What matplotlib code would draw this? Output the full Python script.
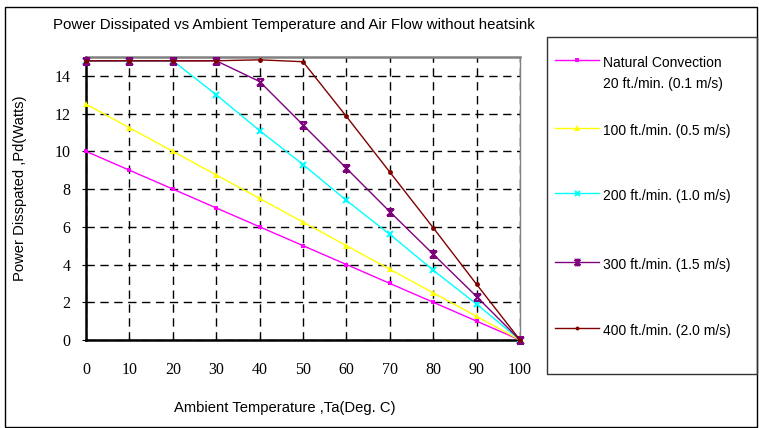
import matplotlib
matplotlib.use("Agg")
import matplotlib.pyplot as plt
from matplotlib.lines import Line2D
from matplotlib.patches import Rectangle
from matplotlib.path import Path

# data
temps = [0, 10, 20, 30, 40, 50, 60, 70, 80, 90, 100]
natural = [10, 9, 8, 7, 6, 5, 4, 3, 2, 1, 0]
ft100 = [12.5, 11.25, 10, 8.75, 7.5, 6.25, 5, 3.75, 2.5, 1.25, 0]
ft200 = [14.8, 14.8, 14.8, 13.0, 11.1, 9.3, 7.4, 5.6, 3.7, 1.9, 0]
ft300 = [14.8, 14.8, 14.8, 14.8, 13.7, 11.4, 9.1, 6.8, 4.55, 2.3, 0]
ft400 = [14.8, 14.8, 14.8, 14.8, 14.85, 14.75, 11.85, 8.9, 5.95, 2.95, 0]

labels = ["Natural Convection\n20 ft./min. (0.1 m/s)", "100 ft./min. (0.5 m/s)",
          "200 ft./min. (1.0 m/s)", "300 ft./min. (1.5 m/s)", "400 ft./min. (2.0 m/s)"]
xticks = [0, 10, 20, 30, 40, 50, 60, 70, 80, 90, 100]
yticks = [0, 2, 4, 6, 8, 10, 12, 14]

# hourglass-like marker (x with bars)
hg = Path([(-1, -1), (1, 1), (-1, 1), (1, -1), (-1, 1), (1, 1), (-1, -1), (1, -1)],
          [Path.MOVETO, Path.LINETO, Path.MOVETO, Path.LINETO,
           Path.MOVETO, Path.LINETO, Path.MOVETO, Path.LINETO])

styles = [
    dict(color="#FF00FF", marker="s", ms=3.5, mew=0),
    dict(color="#FFFF00", marker="^", ms=5, mew=0),
    dict(color="#00FFFF", marker="x", ms=4.5, mew=1.5),
    dict(color="#800080", marker=hg, ms=5, mew=1.5),
    dict(color="#800000", marker="o", ms=3.5, mew=0),
]
series = [natural, ft100, ft200, ft300, ft400]

W, H = 759, 428
fig = plt.figure(figsize=(W / 100, H / 100), dpi=100)
ax = fig.add_axes([86 / W, 1 - 340 / H, (520 - 86) / W, (340 - 57) / H])

for vals, st in zip(series, styles):
    ax.plot(temps, vals, lw=1, color=st["color"], marker=st["marker"],
            markersize=st["ms"], markeredgewidth=st["mew"],
            markeredgecolor=st["color"], markerfacecolor=st["color"],
            clip_on=False, zorder=3)

ax.set_xlim(0, 100)
ax.set_ylim(0, 15)
ax.set_xticks(xticks)
ax.set_yticks(yticks)
ax.grid(True, color="black", linestyle=(0, (6, 4)), lw=1)
ax.tick_params(axis="y", direction="out", length=3, pad=8, labelsize=11.5)
ax.tick_params(axis="x", direction="in", length=3, pad=16, labelsize=11.5)
for lab in ax.get_xticklabels() + ax.get_yticklabels():
    lab.set_fontfamily("Liberation Serif")

ax.spines["left"].set_linewidth(1.8)
ax.spines["bottom"].set_linewidth(1.8)
ax.spines["top"].set_color("#808080")
ax.spines["top"].set_linewidth(1.8)
ax.spines["right"].set_color("#808080")
ax.spines["right"].set_linewidth(1)

sans = "Liberation Sans"
fig.text(53 / W, 1 - 25 / H, "Power Dissipated vs Ambient Temperature and Air Flow without heatsink",
         ha="left", va="center", fontsize=10.8, family=sans)
fig.text(285 / W, 1 - 408 / H, "Ambient Temperature ,Ta(Deg. C)",
         ha="center", va="center", fontsize=10.6, family=sans)
fig.text(20 / W, 1 - 188 / H, "Power Disspated ,Pd(Watts)", rotation=90,
         ha="center", va="center", fontsize=10.6, family=sans)

# outer frame
fig.add_artist(Rectangle((5 / W, 1 - 427 / H), (757 - 5) / W, (427 - 7) / H,
                         transform=fig.transFigure, fill=False, lw=1, ec="black"))

# legend box, built by hand to keep the first marker on the first text line
fig.add_artist(Rectangle((547 / W, 1 - 374 / H), (757 - 547) / W, (374 - 37) / H,
                         transform=fig.transFigure, fill=False, lw=1, ec="#333333"))
entry_y = [60, 128, 193, 262, 328]
for lab, st, yy in zip(labels, styles, entry_y):
    fy = 1 - yy / H
    fig.add_artist(Line2D([555 / W, 599 / W], [fy, fy], transform=fig.transFigure,
                          color=st["color"], lw=1))
    fig.add_artist(Line2D([577 / W], [fy], transform=fig.transFigure, color=st["color"],
                          marker=st["marker"], markersize=st["ms"] * 0.8,
                          markeredgewidth=st["mew"], markeredgecolor=st["color"],
                          markerfacecolor=st["color"], linestyle="none"))
    fig.text(603 / W, 1 - (yy - 4) / H, lab, ha="left", va="top", fontsize=10,
             family=sans, linespacing=1.6)

fig.savefig("out.png", dpi=100)
